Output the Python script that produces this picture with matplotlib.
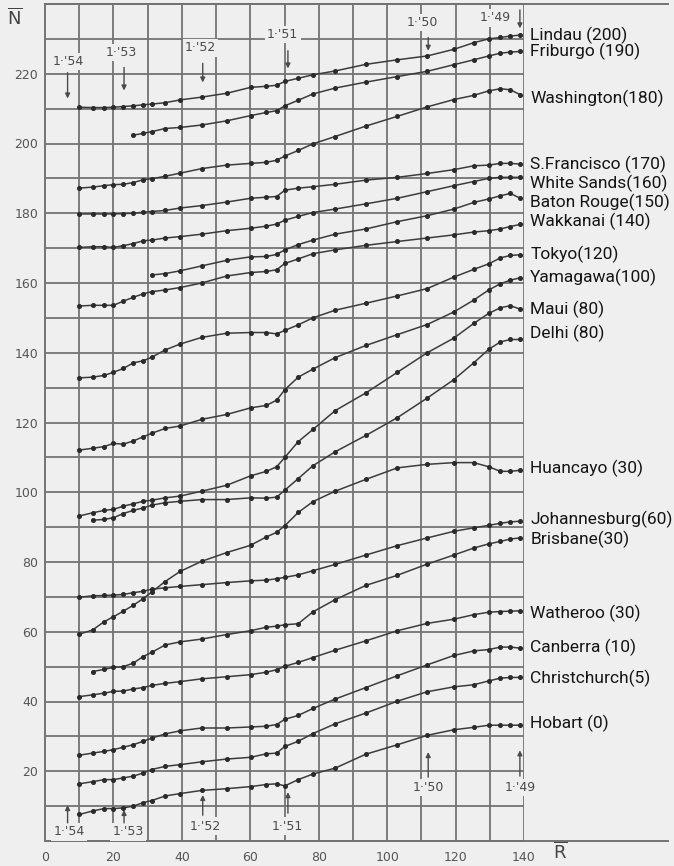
import numpy as np
import matplotlib.pyplot as plt

nan = np.nan

# running-mean sunspot number at each plotted step (shared by every station)
r_mean = [10, 13.9, 17.3, 20, 22.9, 25.8, 28.7, 31.2, 35.1, 39.5, 45.8, 53.1, 60.1, 64.7,
          67.7, 70.1, 74, 78.3, 84.8, 93.8, 103, 111.7, 119.5, 125.3, 129.7, 133.1, 136, 138.9]

# running-mean N for each station, shifted by the amount in brackets
lindau = [210.4, 210.3, 210.3, 210.4, 210.6, 210.8, 211.1, 211.3, 211.7, 212.5, 213.3, 214.4, 216.1, 216.4,
          216.7, 217.8, 218.7, 219.7, 220.8, 222.7, 224.0, 225.1, 227.0, 228.9, 230.0, 230.4, 230.8, 231.1]
friburgo = [nan, nan, nan, nan, nan, 202.4, 202.9, 203.4, 204.3, 204.6, 205.3, 206.5, 208.0, 208.9,
            209.4, 210.8, 212.4, 214.2, 215.9, 217.6, 219.2, 220.7, 222.6, 224.0, 225.1, 225.9, 226.2, 226.4]
washington = [187.2, 187.5, 187.9, 188.2, 188.3, 188.8, 189.6, 189.9, 190.6, 191.5, 192.8, 193.8, 194.3, 194.6,
              195.2, 196.4, 198.0, 199.9, 202.0, 205.0, 207.8, 210.5, 212.6, 213.8, 215.1, 215.7, 215.4, 214.0]
s_francisco = [179.8, 179.8, 179.8, 179.8, 179.9, 180.0, 180.3, 180.5, 180.8, 181.5, 182.2, 183.2, 184.3, 184.6,
               184.8, 186.6, 187.2, 187.6, 188.3, 189.5, 190.3, 191.4, 192.5, 193.6, 193.8, 194.3, 194.3, 194.1]
white_sands = [170.2, 170.4, 170.4, 170.2, 170.7, 171.3, 172.1, 172.3, 172.9, 173.3, 174.0, 175.0, 175.7, 176.3,
               176.9, 178.0, 179.1, 180.2, 181.2, 182.7, 184.3, 186.2, 187.9, 189.1, 190.0, 190.3, 190.3, 190.3]
baton_rouge = [nan, nan, nan, nan, nan, nan, nan, 162.3, 162.7, 163.5, 164.9, 166.5, 167.5, 167.6,
               168.2, 169.5, 171.0, 172.3, 174.0, 175.5, 177.6, 179.3, 181.2, 183.1, 184.1, 185.0, 185.7, 184.3]
wakkanai = [153.4, 153.6, 153.6, 153.6, 154.8, 155.9, 156.9, 157.5, 158.0, 158.7, 160.0, 162.0, 163.0, 163.3,
            163.8, 165.6, 166.9, 168.4, 169.5, 170.8, 171.9, 172.9, 173.8, 174.6, 175.0, 175.5, 176.2, 176.8]
tokyo = [132.8, 133.0, 133.5, 134.4, 135.5, 137.1, 137.7, 138.7, 140.8, 142.5, 144.4, 145.6, 145.8, 145.8,
         145.4, 146.4, 148.0, 150.0, 152.2, 154.2, 156.3, 158.4, 161.7, 163.9, 165.5, 167.2, 167.9, 168.1]
yamagawa = [112.1, 112.6, 113.1, 114.0, 113.8, 114.7, 115.9, 116.9, 118.3, 119.0, 120.9, 122.3, 124.2, 124.9,
            126.4, 129.4, 133.0, 135.3, 138.6, 142.1, 145.2, 148.1, 151.7, 155.1, 158.0, 159.8, 160.8, 161.5]
maui = [93.2, 94.1, 94.8, 95.1, 96.0, 96.7, 97.4, 97.7, 98.4, 98.9, 100.3, 102.0, 104.7, 106.0,
        107.3, 110.0, 114.5, 118.0, 123.4, 128.5, 134.4, 140.0, 144.2, 148.4, 151.3, 152.9, 153.5, 152.5]
delhi = [nan, 92.0, 92.2, 92.7, 93.9, 94.8, 95.5, 96.3, 97.0, 97.4, 97.9, 97.9, 98.4, 98.3,
         98.6, 100.6, 103.9, 107.6, 111.6, 116.3, 121.4, 127.0, 132.3, 137.1, 141.0, 143.1, 143.8, 143.8]
huancayo = [59.3, 60.5, 62.9, 64.3, 65.9, 67.6, 69.5, 71.4, 74.4, 77.3, 80.2, 82.7, 84.8, 87.2,
            88.5, 90.4, 94.2, 97.3, 100.3, 103.7, 107.0, 108.0, 108.5, 108.5, 107.3, 106.0, 106.0, 106.3]
johannesburg = [69.9, 70.3, 70.4, 70.5, 70.7, 71.2, 71.6, 72.2, 72.6, 73.0, 73.5, 74.1, 74.6, 74.8,
                75.2, 75.6, 76.3, 77.5, 79.3, 82.0, 84.7, 86.9, 88.8, 89.8, 90.5, 91.1, 91.5, 91.7]
brisbane = [nan, 48.6, 49.2, 49.8, 50.0, 51.0, 52.9, 54.1, 56.2, 57.1, 57.9, 59.2, 60.3, 61.3,
            61.6, 62.0, 62.3, 65.7, 69.2, 73.3, 76.2, 79.4, 82.0, 84.0, 85.2, 85.9, 86.6, 86.9]
watheroo = [41.4, 41.9, 42.4, 42.9, 43.0, 43.6, 44.0, 44.6, 45.2, 45.7, 46.5, 47.1, 47.7, 48.4,
            49.1, 50.1, 51.2, 52.6, 54.7, 57.4, 60.3, 62.4, 63.6, 64.9, 65.6, 65.8, 65.9, 66.0]
canberra = [24.6, 25.2, 25.7, 26.2, 26.9, 27.6, 28.6, 29.5, 30.7, 31.6, 32.4, 32.4, 32.7, 32.9,
            33.4, 34.9, 36.0, 38.0, 40.7, 44.0, 47.4, 50.5, 53.2, 54.5, 54.9, 55.6, 55.6, 55.3]
christchurch = [16.4, 17.0, 17.6, 17.6, 18.1, 18.6, 19.5, 20.5, 21.4, 21.9, 22.7, 23.5, 24.0, 25.0,
                25.2, 27.1, 28.6, 30.8, 33.6, 36.7, 40.1, 42.8, 44.2, 44.8, 45.9, 46.7, 46.9, 46.9]
hobart = [7.6, 8.6, 9.3, 9.3, 9.5, 10.0, 11.0, 11.6, 12.9, 13.6, 14.5, 15.0, 15.6, 16.2,
          16.4, 15.8, 17.6, 19.2, 20.9, 24.9, 27.6, 30.3, 31.9, 32.6, 33.2, 33.2, 33.2, 33.2]

station_names = ["Lindau (200)", "Friburgo (190)", "Washington(180)", "S.Francisco (170)",
                 "White Sands(160)", "Baton Rouge(150)", "Wakkanai (140)", "Tokyo(120)",
                 "Yamagawa(100)", "Maui (80)", "Delhi (80)", "Huancayo (30)", "Johannesburg(60)",
                 "Brisbane(30)", "Watheroo (30)", "Canberra (10)", "Christchurch(5)", "Hobart (0)"]
station_series = [lindau, friburgo, washington, s_francisco, white_sands, baton_rouge, wakkanai,
                  tokyo, yamagawa, maui, delhi, huancayo, johannesburg, brisbane, watheroo,
                  canberra, christchurch, hobart]

# January of each year, in R
epoch_labels = ["1·'54", "1·'53", "1·'52", "1·'51", "1·'50", "1·'49"]
epoch_r = [6.6, 23.1, 46.1, 71.0, 112.0, 138.8]

x_ticks = [0, 20, 40, 60, 80, 100, 120, 140]
y_ticks = [20, 40, 60, 80, 100, 120, 140, 160, 180, 200, 220]

# ---------------------------------------------------------------------------
bg = "#efefef"
grid_c = "#737373"
line_c = "#3c3c3c"
label_font = ["Roboto", "DejaVu Sans"]

fig = plt.figure(figsize=(6.74, 8.66), dpi=100, facecolor=bg)
ax = fig.add_axes([45 / 674, 25 / 866, 479 / 674, 837 / 866])
ax.set_facecolor(bg)
ax.set_xlim(0, 140)
ax.set_ylim(0, 240)

for gx in range(10, 141, 10):
    ax.axvline(gx, color=grid_c, lw=1.3, zorder=1)
for gy in range(10, 240, 10):
    ax.axhline(gy, color=grid_c, lw=1.3, zorder=1)
for side in ["left", "bottom", "top", "right"]:
    ax.spines[side].set_color(grid_c)
    ax.spines[side].set_linewidth(1.4)
ax.spines["right"].set_visible(False)
# top and bottom rules run on past the curve labels
ax.plot([0, 1.3], [1, 1], transform=ax.transAxes, color=grid_c, lw=1.4, clip_on=False)
ax.plot([0, 1.3], [0, 0], transform=ax.transAxes, color=grid_c, lw=1.4, clip_on=False)

for series in station_series:
    ax.plot(r_mean, series, color=line_c, lw=1.1, marker="o", ms=2.6,
            mfc="#2a2a2a", mec="#2a2a2a", zorder=3)

# station names at the right end of each curve
label_nudge = [0, 0, -1, 0, -1.8, -1.2, 1.0, 0, 0, 0, 1.7, 0.5, 0.6, -0.4, -0.7, 0.3, -0.2, 0.5]
for name, series, dy in zip(station_names, station_series, label_nudge):
    ax.text(141.8, series[-1] + dy, name, fontsize=12.5, family=label_font,
            color="#151515", va="center", ha="left", clip_on=False)

# epoch markers along the top and the bottom
top_text = [(6.8, 223.5), (22.3, 226.2), (45.5, 227.4), (69.5, 231.3), (110.3, 234.6), (131.5, 236.0)]
top_arrow = [(220.3, 212.9), (221.8, 215.2), (223.0, 217.5), (226.6, 221.5), (230.4, 226.6), (238.3, 233.0)]
bot_text = [(7.0, 2.6), (24.3, 2.6), (46.8, 4.3), (70.8, 4.3), (112.0, 15.4), (139.0, 15.4)]
bot_arrow = [(5.2, 10.3), (5.2, 8.9), (7.4, 13.2), (8.0, 14.0), (18.3, 25.5), (18.6, 26.0)]

for lab, r, (tx, ty), (a0, a1) in zip(epoch_labels, epoch_r, top_text, top_arrow):
    ax.text(tx, ty, lab, fontsize=9, color="#4a4a4a", ha="center", va="center", zorder=4,
            bbox=dict(facecolor=bg, edgecolor="none", pad=1.5))
    ax.annotate("", xy=(r, a1), xytext=(r, a0), zorder=4,
                arrowprops=dict(arrowstyle="-|>", color="#4a4a4a", lw=1.0, mutation_scale=7,
                                shrinkA=0, shrinkB=0))
for lab, r, (tx, ty), (a0, a1) in zip(epoch_labels, epoch_r, bot_text, bot_arrow):
    ax.text(tx, ty, lab, fontsize=9, color="#4a4a4a", ha="center", va="center", zorder=4,
            bbox=dict(facecolor=bg, edgecolor="none", pad=1.5))
    ax.annotate("", xy=(r, a1), xytext=(r, a0), zorder=4,
                arrowprops=dict(arrowstyle="-|>", color="#4a4a4a", lw=1.0, mutation_scale=7,
                                shrinkA=0, shrinkB=0))

ax.set_xticks(x_ticks)
ax.set_yticks(y_ticks)
ax.tick_params(length=0, labelsize=9, labelcolor="#555555")
ax.tick_params(axis="x", pad=7)
ax.tick_params(axis="y", pad=5)

plt.rcParams["mathtext.fontset"] = "dejavusans"
fig.text(15 / 674, 1 - 18 / 866, r"$\overline{\mathrm{N}}$", fontsize=13, color="#444444",
         ha="center", va="center")
fig.text(560 / 674, 1 - 852 / 866, r"$\overline{\mathrm{R}}$", fontsize=13, color="#444444",
         ha="center", va="center")

fig.savefig("out.png", dpi=100, facecolor=bg)
